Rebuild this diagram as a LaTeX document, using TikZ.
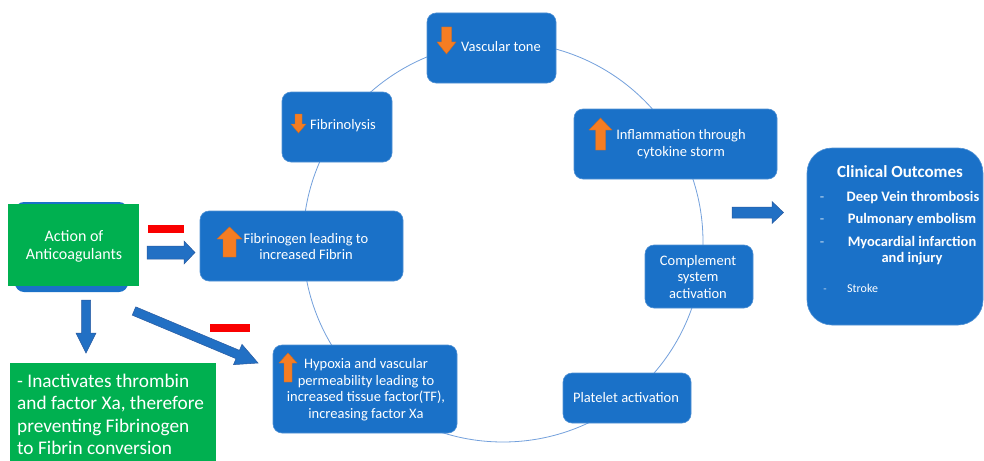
\documentclass[tikz,border=0pt]{standalone}
\usepackage{fontspec}
\setmainfont{Carlito}
\definecolor{boxblue}{RGB}{26,113,200}
\definecolor{boxedge}{RGB}{80,145,212}
\definecolor{arrblue}{RGB}{34,112,196}
\definecolor{arredge}{RGB}{40,90,160}
\definecolor{ringblue}{RGB}{115,160,220}
\definecolor{grn}{RGB}{0,176,80}
\definecolor{org}{RGB}{245,125,35}
\definecolor{redbar}{RGB}{250,0,0}
\newcommand{\setfs}[2]{\fontsize{#1}{#2}\selectfont}
\newcommand{\blockarrow}[7]{\path[#1,shift={#2},rotate=#3] (0,{-#5}) -- ({#4-#7},{-#5}) -- ({#4-#7},{-#6}) -- (#4,0) -- ({#4-#7},{#6}) -- ({#4-#7},{#5}) -- (0,{#5}) -- cycle;}
\begin{document}
\begin{tikzpicture}[x=1pt,y=-1pt,
  box/.style={draw=boxedge,fill=boxblue,rounded corners=9pt,line width=0.6pt,inner sep=0pt},
  gbox/.style={fill=grn,inner sep=0pt},
  txt/.style={text=white,font=\setfs{14.5}{16.5},align=center,inner sep=0pt},
  btxt/.style={text=white,font=\bfseries\setfs{14.5}{16},align=center,inner sep=0pt},
  dtxt/.style={text=white!75!boxblue,font=\setfs{14.5}{16.5},inner sep=0pt},
  barr/.style={fill=arrblue,draw=arredge,line width=0.5pt},
  oarr/.style={fill=org,draw=org!85!black,line width=0.4pt},
  ring/.style={circle,draw=ringblue,line width=0.8pt,inner sep=0pt,minimum size=400pt}]
\useasboundingbox (0,0) rectangle (984,460);
\clip (0,0) rectangle (984,460);
\fill[white] (0,0) rectangle (984,460);
% ring
\node[ring] (ring) at (503,242) {};
% cycle boxes
\node[box,minimum width=129pt,minimum height=70pt] (vt) at (491.5,48) {};
\node[box,minimum width=110pt,minimum height=70pt] (fl) at (337,127) {};
\node[box,minimum width=203pt,minimum height=70pt] (inf) at (675.5,144) {};
\node[box,minimum width=108pt,minimum height=63pt] (cmp) at (699,276.5) {};
\node[box,minimum width=128pt,minimum height=50pt] (plt) at (627,398) {};
\node[box,minimum width=184pt,minimum height=88pt] (hyp) at (365,389) {};
\node[box,minimum width=203pt,minimum height=70pt] (fbg) at (301.5,246) {};
\node[box,rounded corners=25pt,minimum width=176pt,minimum height=177pt] (co) at (895,236.5) {};
% texts
\node[txt] (vt-t) at (501,47) {Vascular tone};
\node[txt] (fl-t) at (343,126) {Fibrinolysis};
\node[txt] (inf-t) at (681,144) {Inflammation through\\cytokine storm};
\node[txt] (cmp-t) at (698,277) {Complement\\system\\activation};
\node[txt] (plt-t) at (626,398) {Platelet activation};
\node[txt] (hyp-t) at (366,389.5) {Hypoxia and vascular\\permeability leading to\\increased tissue factor(TF),\\increasing factor Xa};
\node[txt] (fbg-t) at (306,246.5) {Fibrinogen leading to\\increased Fibrin};
% clinical outcomes
\node[btxt,font=\bfseries\setfs{17}{20},anchor=base] (co-title) at (900,177) {Clinical Outcomes};
\node[btxt,anchor=base] (co-1) at (913,201) {Deep Vein thrombosis};
\node[btxt,anchor=base] (co-2) at (912,223) {Pulmonary embolism};
\node[btxt] (co-3) at (912,250.5) {Myocardial infarction\\and injury};
\node[txt,font=\setfs{12}{14},anchor=base west] (co-4) at (847,292) {Stroke};
\node[dtxt,anchor=base] (d1) at (822,201) {-};
\node[dtxt,anchor=base] (d2) at (822,223) {-};
\node[dtxt,anchor=base] (d3) at (822,246) {-};
\node[dtxt,font=\setfs{11}{13},anchor=base] (d4) at (825,292) {-};
% action of anticoagulants
\node[box,draw=none,minimum width=113pt,minimum height=90pt] (actbg) at (71.5,247) {};
\node[gbox,minimum width=131pt,minimum height=82pt] (act) at (73.5,245) {};
\node[txt,font=\setfs{16}{18}] (act-t) at (74,246.5) {Action of\\Anticoagulants};
\node[gbox,anchor=north west,minimum width=206pt,minimum height=110pt] (inact) at (10,363) {};
\node[txt,font=\setfs{19.3}{22.5},align=left,anchor=north west] (inact-t) at (17,373.5) {- Inactivates thrombin\\and factor Xa, therefore\\preventing Fibrinogen\\to Fibrin conversion};
% red bars
\fill[redbar] (148,225) rectangle (184,233);
\fill[redbar] (210,324) rectangle (250,332);
% blue block arrows
\blockarrow{barr}{(147,252.5)}{0}{48}{6.5}{11.5}{11}
\blockarrow{barr}{(86,300)}{-90}{53}{4.5}{10}{20}
\blockarrow{barr}{(134,311)}{-22.75}{134.5}{4.5}{11}{22}
\blockarrow{barr}{(732,212.5)}{0}{51.5}{5.5}{11}{11.5}
% orange arrows
\blockarrow{oarr}{(446.5,27)}{-90}{27}{5}{9.5}{12}
\blockarrow{oarr}{(298.5,114)}{-90}{19}{3.5}{7.5}{9}
\blockarrow{oarr}{(600.5,150)}{90}{32}{5}{11.5}{12}
\blockarrow{oarr}{(229.5,257)}{90}{30}{6.5}{12.5}{12}
\blockarrow{oarr}{(288,382)}{90}{29}{4}{9}{10}
\end{tikzpicture}
\end{document}
